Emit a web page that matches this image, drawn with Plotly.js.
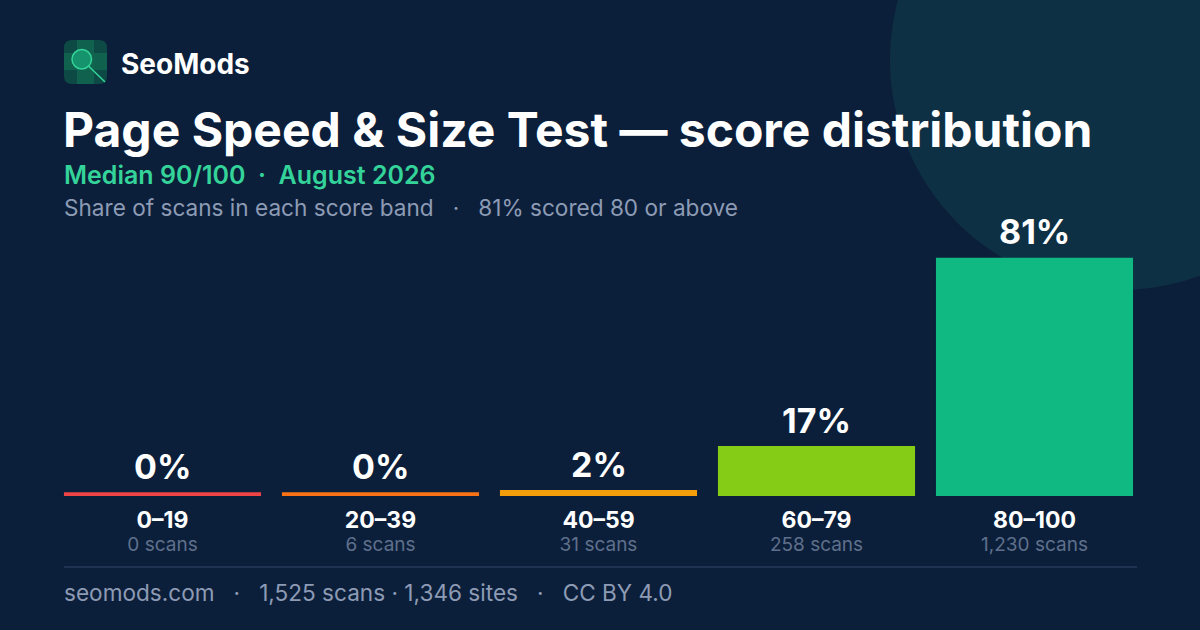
<!DOCTYPE html>
<html>
<head>
<meta charset="utf-8">
<script src="https://cdn.plot.ly/plotly-3.0.1.min.js"></script>
<style>
  html, body { margin: 0; padding: 0; background: #0c1f3a; }
  #chart { width: 1200px; height: 630px; }
</style>
</head>
<body>
<div id="chart"></div>
<script>
// score bands, scans per band and share of scans (%)
var bands = ['0–19', '20–39', '40–59', '60–79', '80–100'];
var scans = ['0', '6', '31', '258', '1,230'];
var share = [0, 0, 2, 17, 81];
var barColors = ['#ef4444', '#f97316', '#f59e0b', '#84cc16', '#10b981'];

var W = 1200, H = 630;
function px(x) { return x / W; }
function py(y) { return 1 - y / H; }

// tiny floor so empty bands still show a sliver
var barHeights = share.map(function (v) { return Math.max(v, 1.3); });
var tickText = bands.map(function (b, i) {
  return '<span style="font-size:23px;font-weight:bold">' + b + '</span><br>' +
         '<span style="font-size:19px;color:#5f708c">' + scans[i] + ' scans</span>';
});

var trace = {
  type: 'bar',
  x: bands,
  y: barHeights,
  cliponaxis: false,
  marker: { color: barColors, line: { width: 0 } },
  hoverinfo: 'skip'
};

// value labels above each bar
var valueLabels = bands.map(function (b, i) {
  return { xref: 'x', yref: 'y', x: b, y: barHeights[i], yshift: 26,
           xanchor: 'center', yanchor: 'middle', showarrow: false,
           text: '<b>' + share[i] + '%</b>',
           font: { family: 'Inter, sans-serif', size: 34, color: '#ffffff' } };
});

var sub = '#8d9bb5';
var layout = {
  width: W, height: H,
  margin: { l: 0, r: 0, t: 0, b: 0 },
  paper_bgcolor: '#0c1f3a',
  plot_bgcolor: 'rgba(0,0,0,0)',
  showlegend: false,
  bargap: 0.096,
  font: { family: 'Inter, sans-serif', color: '#ffffff' },
  xaxis: {
    domain: [px(53.5), px(1143.5)],
    tickvals: bands, ticktext: tickText,
    tickfont: { size: 18, color: '#ffffff' },
    ticklabelstandoff: 13,
    showgrid: false, zeroline: false, showline: false, ticks: '',
    fixedrange: true
  },
  yaxis: {
    domain: [py(496), py(202)],
    range: [0, 100],
    visible: false, fixedrange: true
  },
  shapes: [
    { type: 'circle', xref: 'paper', yref: 'paper', layer: 'below',
      x0: px(890), x1: px(1350), y0: py(290), y1: py(-170),
      fillcolor: '#0e3044', line: { width: 0 } },
    { type: 'line', xref: 'paper', yref: 'paper',
      x0: px(64), x1: px(1137), y0: py(567), y1: py(567),
      line: { color: '#1e3352', width: 2 } },
    // logo tile
    { type: 'path', xref: 'paper', yref: 'paper',
      path: 'M' + px(72) + ',' + py(40) + ' L' + px(99) + ',' + py(40) +
            ' Q' + px(107) + ',' + py(40) + ' ' + px(107) + ',' + py(48) +
            ' L' + px(107) + ',' + py(76) + ' Q' + px(107) + ',' + py(84) + ' ' + px(99) + ',' + py(84) +
            ' L' + px(72) + ',' + py(84) + ' Q' + px(64) + ',' + py(84) + ' ' + px(64) + ',' + py(76) +
            ' L' + px(64) + ',' + py(48) + ' Q' + px(64) + ',' + py(40) + ' ' + px(72) + ',' + py(40) + ' Z',
      fillcolor: '#0d4a45', line: { width: 0 } },
    { type: 'rect', xref: 'paper', yref: 'paper',
      x0: px(77), x1: px(94), y0: py(40), y1: py(84),
      fillcolor: '#11664f', opacity: 0.8, line: { width: 0 } },
    { type: 'rect', xref: 'paper', yref: 'paper',
      x0: px(64), x1: px(107), y0: py(53), y1: py(70),
      fillcolor: '#11664f', opacity: 0.8, line: { width: 0 } },
    { type: 'circle', xref: 'paper', yref: 'paper',
      x0: px(72), x1: px(91.5), y0: py(49.5), y1: py(69),
      fillcolor: '#14936c', line: { color: '#34d399', width: 1.5 } },
    { type: 'line', xref: 'paper', yref: 'paper',
      x0: px(88.5), x1: px(105), y0: py(66), y1: py(82),
      line: { color: '#34d399', width: 1.5 } }
  ],
  annotations: valueLabels.concat([
    { xref: 'paper', yref: 'paper', x: px(119), y: py(64), xanchor: 'left', yanchor: 'middle',
      text: '<b>SeoMods</b>', showarrow: false,
      font: { family: 'Inter, sans-serif', size: 28, color: '#ffffff' } },
    { xref: 'paper', yref: 'paper', x: px(61), y: py(130), xanchor: 'left', yanchor: 'middle',
      text: '<b>Page Speed &amp; Size Test — score distribution</b>', showarrow: false,
      font: { family: 'Inter, sans-serif', size: 48, color: '#ffffff' } },
    { xref: 'paper', yref: 'paper', x: px(62), y: py(175), xanchor: 'left', yanchor: 'middle',
      text: 'Median 90/100  ·  August 2026', showarrow: false,
      font: { family: 'Inter, sans-serif', size: 25, color: '#34d399', weight: 600 } },
    { xref: 'paper', yref: 'paper', x: px(62), y: py(208), xanchor: 'left', yanchor: 'middle',
      text: 'Share of scans in each score band   ·   81% scored 80 or above', showarrow: false,
      font: { family: 'Inter, sans-serif', size: 22.6, color: sub } },
    { xref: 'paper', yref: 'paper', x: px(62), y: py(592), xanchor: 'left', yanchor: 'middle',
      text: 'seomods.com   ·   1,525 scans · 1,346 sites   ·   CC BY 4.0', showarrow: false,
      font: { family: 'Inter, sans-serif', size: 22.6, color: sub } }
  ])
};

Plotly.newPlot('chart', [trace], layout, { staticPlot: true, displayModeBar: false });
</script>
</body>
</html>
